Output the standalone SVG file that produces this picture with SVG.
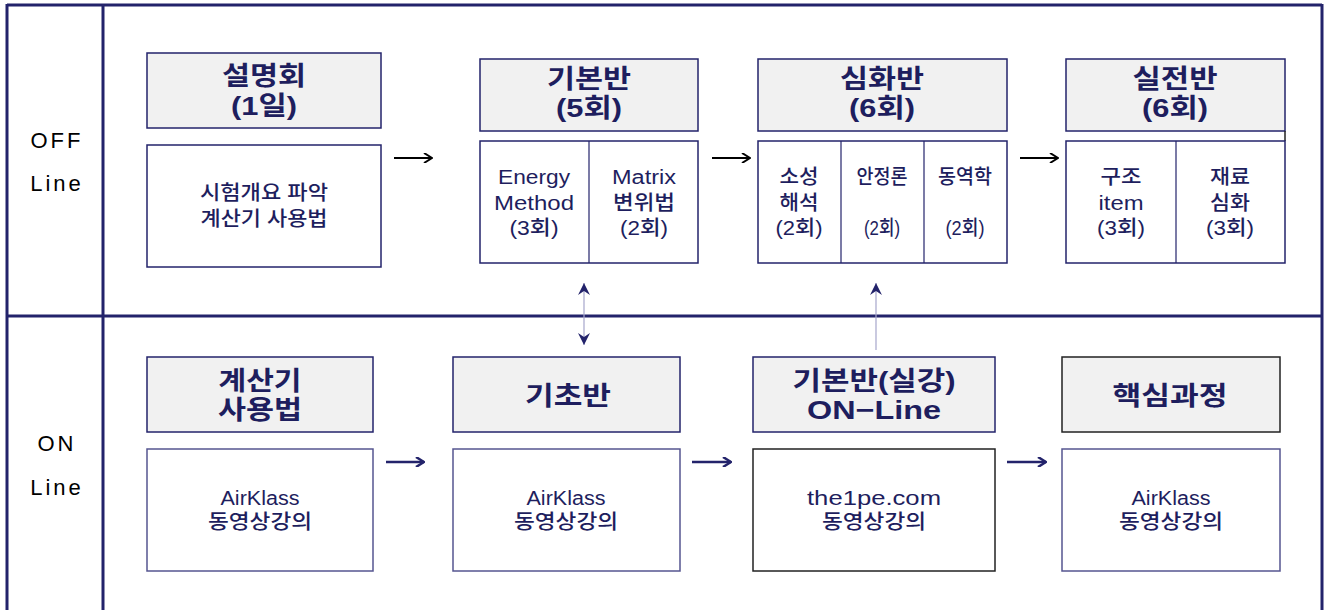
<svg xmlns="http://www.w3.org/2000/svg" width="1325" height="610" viewBox="0 0 1325 610">
<defs>
<style>
.frame{fill:none;stroke:#23236b;stroke-width:3}
.hd{fill:#f1f1f1;stroke:#23236b;stroke-width:1.5}
.bd{fill:#fff;stroke:#23236b;stroke-width:1.5}
.bdl{fill:#fff;stroke:#555590;stroke-width:1.5}
.dk{stroke:#222}
.div{stroke:#23236b;stroke-width:1.2}
.ht{font-family:"Liberation Sans","Noto Sans CJK KR",sans-serif;font-weight:700;font-size:26.5px;fill:#1e1e5e;text-anchor:middle}
.bt{font-family:"Liberation Sans","Noto Sans CJK KR",sans-serif;font-weight:500;font-size:20px;fill:#1e1e5e;text-anchor:middle}
.lab{font-family:"Liberation Sans",sans-serif;font-size:22px;fill:#000;text-anchor:middle;letter-spacing:3px}
.ak{fill:none;stroke:#000;stroke-width:2}
.an{fill:none;stroke:#23236b;stroke-width:2.5}
.vl{stroke:#a6a6cc;stroke-width:1.2}
</style>
<marker id="mk" viewBox="0 0 10 10" refX="9" refY="5" markerWidth="10" markerHeight="10" markerUnits="userSpaceOnUse" orient="auto"><path d="M1,0 L9,5 L1,10" fill="none" stroke="#000" stroke-width="2"/></marker>
<marker id="mn" viewBox="0 0 10 10" refX="9" refY="5" markerWidth="10" markerHeight="10" markerUnits="userSpaceOnUse" orient="auto"><path d="M1,0 L9,5 L1,10" fill="none" stroke="#23236b" stroke-width="2.5"/></marker>
<marker id="mv" viewBox="0 0 12 12" refX="12" refY="6" markerWidth="12" markerHeight="12" markerUnits="userSpaceOnUse" orient="auto-start-reverse"><path d="M0,0 L12,6 L0,12 L4,6 Z" fill="#23236b"/></marker>
</defs>

<g id="frame">
<line class="frame" x1="7" y1="5" x2="1322" y2="5"/>
<line class="frame" x1="7" y1="4" x2="7" y2="612"/>
<line class="frame" x1="1322" y1="4" x2="1322" y2="612"/>
<line class="frame" x1="103" y1="4" x2="103" y2="612"/>
<line class="frame" x1="7" y1="316" x2="1322" y2="316"/>
<text class="lab" x="57" y="148">OFF</text>
<text class="lab" x="57" y="191">Line</text>
<text class="lab" x="57" y="451">ON</text>
<text class="lab" x="57" y="495">Line</text>
</g>

<g id="n-seolmyeong">
<rect class="hd" x="147" y="53" width="234" height="75"/>
<text class="ht" x="264" y="85" textLength="84" lengthAdjust="spacingAndGlyphs">설명회</text>
<text class="ht" x="264" y="115" textLength="66" lengthAdjust="spacingAndGlyphs">(1일)</text>
<rect class="bd" x="147" y="145" width="234" height="122"/>
<text class="bt" x="264" y="200" textLength="128" lengthAdjust="spacingAndGlyphs">시험개요 파악</text>
<text class="bt" x="264" y="226" textLength="127" lengthAdjust="spacingAndGlyphs">계산기 사용법</text>
</g>

<g id="n-gibon">
<rect class="hd" x="480" y="59" width="218" height="72"/>
<text class="ht" x="589" y="88" textLength="84" lengthAdjust="spacingAndGlyphs">기본반</text>
<text class="ht" x="589" y="117" textLength="66" lengthAdjust="spacingAndGlyphs">(5회)</text>
<rect class="bd" x="480" y="141" width="218" height="122"/>
<line class="div" x1="589" y1="141" x2="589" y2="263"/>
<text class="bt" x="534" y="184" textLength="72" lengthAdjust="spacingAndGlyphs">Energy</text>
<text class="bt" x="534" y="210" textLength="80" lengthAdjust="spacingAndGlyphs">Method</text>
<text class="bt" x="534" y="235" textLength="49" lengthAdjust="spacingAndGlyphs">(3회)</text>
<text class="bt" x="644" y="184" textLength="64" lengthAdjust="spacingAndGlyphs">Matrix</text>
<text class="bt" x="644" y="210" textLength="62" lengthAdjust="spacingAndGlyphs">변위법</text>
<text class="bt" x="644" y="235" textLength="48" lengthAdjust="spacingAndGlyphs">(2회)</text>
</g>

<g id="n-simhwa">
<rect class="hd" x="758" y="59" width="249" height="72"/>
<text class="ht" x="882" y="88" textLength="84" lengthAdjust="spacingAndGlyphs">심화반</text>
<text class="ht" x="882" y="117" textLength="66" lengthAdjust="spacingAndGlyphs">(6회)</text>
<rect class="bd" x="758" y="141" width="249" height="122"/>
<line class="div" x1="841" y1="141" x2="841" y2="263"/>
<line class="div" x1="924" y1="141" x2="924" y2="263"/>
<text class="bt" x="799" y="184" textLength="39" lengthAdjust="spacingAndGlyphs">소성</text>
<text class="bt" x="799" y="210" textLength="39" lengthAdjust="spacingAndGlyphs">해석</text>
<text class="bt" x="799" y="235" textLength="47" lengthAdjust="spacingAndGlyphs">(2회)</text>
<text class="bt" x="882" y="184" textLength="51" lengthAdjust="spacingAndGlyphs">안정론</text>
<text class="bt" x="882" y="235" textLength="36" lengthAdjust="spacingAndGlyphs">(2회)</text>
<text class="bt" x="965" y="184" textLength="54" lengthAdjust="spacingAndGlyphs">동역학</text>
<text class="bt" x="965" y="235" textLength="39" lengthAdjust="spacingAndGlyphs">(2회)</text>
</g>

<g id="n-siljeon">
<rect class="hd" x="1066" y="59" width="219" height="72"/>
<text class="ht" x="1175" y="88" textLength="85" lengthAdjust="spacingAndGlyphs">실전반</text>
<text class="ht" x="1175" y="117" textLength="66" lengthAdjust="spacingAndGlyphs">(6회)</text>
<line x1="1285" y1="131" x2="1285" y2="141" stroke="#222" stroke-width="1.5"/>
<rect class="bd" x="1066" y="141" width="219" height="122"/>
<line class="div" x1="1176" y1="141" x2="1176" y2="263"/>
<text class="bt" x="1121" y="184" textLength="41" lengthAdjust="spacingAndGlyphs">구조</text>
<text class="bt" x="1121" y="210" textLength="45" lengthAdjust="spacingAndGlyphs">item</text>
<text class="bt" x="1121" y="235" textLength="48" lengthAdjust="spacingAndGlyphs">(3회)</text>
<text class="bt" x="1230" y="184" textLength="40" lengthAdjust="spacingAndGlyphs">재료</text>
<text class="bt" x="1230" y="210" textLength="40" lengthAdjust="spacingAndGlyphs">심화</text>
<text class="bt" x="1230" y="235" textLength="48" lengthAdjust="spacingAndGlyphs">(3회)</text>
</g>

<g id="n-calc">
<rect class="hd" x="147" y="357" width="226" height="75"/>
<text class="ht" x="260" y="390" textLength="83" lengthAdjust="spacingAndGlyphs">계산기</text>
<text class="ht" x="260" y="419" textLength="84" lengthAdjust="spacingAndGlyphs">사용법</text>
<rect class="bdl" x="147" y="449" width="226" height="122"/>
<text class="bt" x="260" y="505" textLength="79" lengthAdjust="spacingAndGlyphs">AirKlass</text>
<text class="bt" x="260" y="529" textLength="104" lengthAdjust="spacingAndGlyphs">동영상강의</text>
</g>

<g id="n-gicho">
<rect class="hd" x="453" y="357" width="227" height="75"/>
<text class="ht" x="568" y="405" textLength="86" lengthAdjust="spacingAndGlyphs">기초반</text>
<rect class="bdl" x="453" y="449" width="227" height="122"/>
<text class="bt" x="566" y="505" textLength="79" lengthAdjust="spacingAndGlyphs">AirKlass</text>
<text class="bt" x="566" y="529" textLength="104" lengthAdjust="spacingAndGlyphs">동영상강의</text>
</g>

<g id="n-online">
<rect class="hd" x="753" y="357" width="242" height="75"/>
<text class="ht" x="874" y="390" textLength="163" lengthAdjust="spacingAndGlyphs">기본반(실강)</text>
<text class="ht" x="874" y="419" textLength="134" lengthAdjust="spacingAndGlyphs">ON−Line</text>
<rect class="bd dk" x="753" y="449" width="242" height="122"/>
<text class="bt" x="874" y="505" textLength="134" lengthAdjust="spacingAndGlyphs">the1pe.com</text>
<text class="bt" x="874" y="529" textLength="104" lengthAdjust="spacingAndGlyphs">동영상강의</text>
</g>

<g id="n-core">
<rect class="hd dk" x="1062" y="357" width="218" height="75"/>
<text class="ht" x="1170" y="405" textLength="115" lengthAdjust="spacingAndGlyphs">핵심과정</text>
<rect class="bdl" x="1062" y="449" width="218" height="122"/>
<text class="bt" x="1171" y="505" textLength="79" lengthAdjust="spacingAndGlyphs">AirKlass</text>
<text class="bt" x="1171" y="529" textLength="104" lengthAdjust="spacingAndGlyphs">동영상강의</text>
</g>

<g id="connectors">
<line class="ak" x1="394" y1="158" x2="432" y2="158" marker-end="url(#mk)"/>
<line class="ak" x1="712" y1="158" x2="750" y2="158" marker-end="url(#mk)"/>
<line class="ak" x1="1020" y1="158" x2="1058" y2="158" marker-end="url(#mk)"/>
<line class="an" x1="386" y1="462" x2="424" y2="462" marker-end="url(#mn)"/>
<line class="an" x1="692" y1="462" x2="731" y2="462" marker-end="url(#mn)"/>
<line class="an" x1="1007" y1="462" x2="1046" y2="462" marker-end="url(#mn)"/>
<line class="vl" x1="584" y1="283" x2="584" y2="345" marker-start="url(#mv)" marker-end="url(#mv)"/>
<line class="vl" x1="876" y1="350" x2="876" y2="283" marker-end="url(#mv)"/>
</g>
</svg>
